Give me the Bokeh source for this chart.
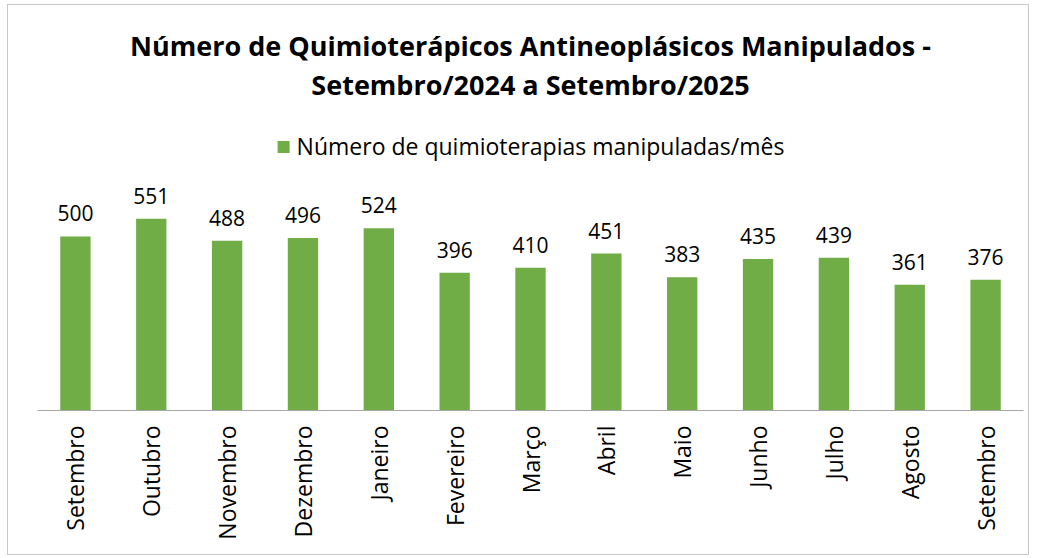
import math
from bokeh.plotting import figure
from bokeh.models import (Range1d, FixedTicker, Title, Legend, LegendItem,
                          ColumnDataSource)
from bokeh.core.properties import value
from bokeh.embed import file_html
from bokeh.resources import INLINE

# ---- data ----
months = ["Setembro", "Outubro", "Novembro", "Dezembro", "Janeiro", "Fevereiro",
          "Março", "Abril", "Maio", "Junho", "Julho", "Agosto", "Setembro"]
counts = [500, 551, 488, 496, 524, 396, 410, 451, 383, 435, 439, 361, 376]
title_line1 = "Número de Quimioterápicos Antineoplásicos Manipulados -"
title_line2 = "Setembro/2024 a Setembro/2025"
series_name = "Número de quimioterapias manipuladas/mês"

FONT = "Open Sans"
GREEN = "#70AD47"

idx = list(range(len(months)))
src = ColumnDataSource(dict(x=idx, y=counts, lbl=[str(v) for v in counts]))

p = figure(width=1022, height=551, output_backend="svg", toolbar_location=None,
           x_range=Range1d(-0.5, len(months) - 0.5), y_range=Range1d(0, 885),
           min_border_left=29, min_border_right=7, min_border_top=97,
           min_border_bottom=146, title=title_line1)
p.styles = {"border": "1px solid #c8c8c8", "margin-left": "7px",
            "margin-top": "4px"}
p.outline_line_color = None
p.background_fill_color = "white"
p.border_fill_color = "white"

bars = p.vbar(x="x", top="y", bottom=0, width=0.4, source=src,
              fill_color=GREEN, line_color=None)
p.text(x="x", y="y", text="lbl", source=src, text_align="center",
       text_baseline="alphabetic", y_offset=-23, text_font=value(FONT),
       text_font_size="21px", text_color="#000000")

p.grid.visible = False
p.yaxis.visible = False
xa = p.xaxis[0]
xa.ticker = FixedTicker(ticks=idx)
xa.major_label_overrides = {i: m for i, m in zip(idx, months)}
xa.major_label_orientation = math.pi / 2
xa.major_tick_line_color = None
xa.minor_tick_line_color = None
xa.axis_line_color = "#a6a6a6"
xa.major_label_text_font = FONT
xa.major_label_text_font_size = "23px"
xa.major_label_text_color = "#000000"
xa.major_label_standoff = 9

legend = Legend(items=[LegendItem(label=series_name, renderers=[bars])],
                location="top_center", orientation="horizontal",
                border_line_color=None, background_fill_alpha=0,
                label_text_font=FONT, label_text_font_size="23px",
                label_text_color="#000000", glyph_width=15, glyph_height=15,
                padding=0, margin=28, label_standoff=6)
p.add_layout(legend, "center")

t2 = Title(text=title_line2, align="center", text_font=FONT,
           text_font_size="27px", text_font_style="bold",
           text_color="#000000", standoff=0)
p.add_layout(t2, "above")

p.title.align = "center"
p.title.text_font = FONT
p.title.text_font_size = "27px"
p.title.text_font_style = "bold"
p.title.text_color = "#000000"
p.title.standoff = 0

open("out.html", "w").write(file_html(p, INLINE))
